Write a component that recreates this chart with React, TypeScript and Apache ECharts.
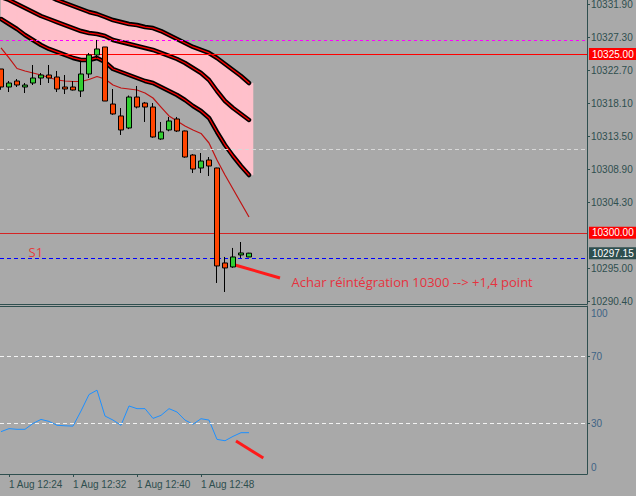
import React, { useEffect, useRef } from 'react';
import * as echarts from 'echarts';

// ---- data ----
const times = [
  '1 Aug 12:23', '1 Aug 12:24', '1 Aug 12:25', '1 Aug 12:26', '1 Aug 12:27', '1 Aug 12:28', '1 Aug 12:29', '1 Aug 12:30',
  '1 Aug 12:31', '1 Aug 12:32', '1 Aug 12:33', '1 Aug 12:34', '1 Aug 12:35', '1 Aug 12:36', '1 Aug 12:37', '1 Aug 12:38',
  '1 Aug 12:39', '1 Aug 12:40', '1 Aug 12:41', '1 Aug 12:42', '1 Aug 12:43', '1 Aug 12:44', '1 Aug 12:45', '1 Aug 12:46',
  '1 Aug 12:47', '1 Aug 12:48', '1 Aug 12:49', '1 Aug 12:50', '1 Aug 12:51', '1 Aug 12:52', '1 Aug 12:53', '1 Aug 12:54',
];
const timeTickLabels = ['1 Aug 12:24', '1 Aug 12:32', '1 Aug 12:40', '1 Aug 12:48'];

const opens = [10322.91, 10320.39, 10321.23, 10320.39, 10320.95, 10321.65, 10322.07, 10321.79, 10320.39, 10320.39, 10319.83, 10322.21, 10324.87, 10325.99, 10318.01, 10316.34, 10314.66, 10318.99, 10318.15, 10317.59, 10313.12, 10314.38, 10315.92, 10314.24, 10310.88, 10309.06, 10310.18, 10309.06, 10295.78, 10295.22, 10296.90, 10296.62];
const closes = [10320.39, 10320.95, 10320.67, 10320.67, 10321.65, 10322.07, 10321.65, 10320.11, 10320.11, 10319.97, 10322.21, 10324.87, 10325.71, 10318.43, 10316.62, 10314.38, 10318.99, 10317.59, 10317.59, 10313.40, 10314.10, 10315.64, 10314.24, 10310.60, 10308.92, 10310.04, 10309.34, 10295.36, 10295.08, 10296.62, 10297.18, 10297.15];
const lows = [10320.00, 10319.69, 10320.39, 10319.55, 10320.67, 10320.67, 10320.95, 10319.69, 10319.41, 10319.90, 10318.99, 10321.65, 10324.45, 10318.43, 10316.50, 10313.68, 10314.50, 10317.40, 10315.50, 10313.30, 10313.00, 10314.20, 10314.10, 10310.50, 10308.36, 10308.36, 10307.94, 10292.98, 10291.72, 10295.10, 10296.48, 10296.60];
const highs = [10322.91, 10321.23, 10321.51, 10320.95, 10323.47, 10322.35, 10323.47, 10322.63, 10322.07, 10321.23, 10323.89, 10325.15, 10326.97, 10325.99, 10320.11, 10317.45, 10319.20, 10320.53, 10318.30, 10318.15, 10315.50, 10316.20, 10316.20, 10314.30, 10311.00, 10311.16, 10310.60, 10309.10, 10296.62, 10297.88, 10298.71, 10297.20];

const bandUpper = [10336.06, 10335.64, 10335.08, 10334.66, 10334.24, 10333.68, 10333.12, 10332.56, 10332.14, 10331.72, 10331.30, 10330.88, 10330.60, 10330.18, 10329.76, 10329.48, 10329.20, 10329.06, 10328.78, 10328.64, 10328.22, 10327.66, 10327.11, 10326.55, 10325.99, 10325.57, 10325.15, 10324.45, 10323.61, 10322.77, 10321.93, 10320.95];
const bandMiddle = [10332.98, 10332.56, 10332.00, 10331.44, 10330.88, 10330.32, 10329.90, 10329.48, 10329.06, 10328.64, 10328.22, 10327.94, 10327.80, 10327.53, 10326.97, 10326.69, 10326.41, 10326.13, 10325.85, 10325.57, 10325.15, 10324.73, 10324.31, 10323.75, 10323.05, 10322.35, 10321.37, 10319.83, 10318.43, 10317.46, 10316.62, 10315.78];
const bandLower = [10329.90, 10329.20, 10328.50, 10327.66, 10326.97, 10326.27, 10325.71, 10325.29, 10324.87, 10324.45, 10324.17, 10324.17, 10324.45, 10323.89, 10322.91, 10322.49, 10322.07, 10321.65, 10321.23, 10320.95, 10320.39, 10319.83, 10319.27, 10318.57, 10317.73, 10317.04, 10316.06, 10314.10, 10312.28, 10310.74, 10309.34, 10308.08];

const maValues = [10325.85, 10324.45, 10322.98, 10322.63, 10322.35, 10322.07, 10321.72, 10321.37, 10321.23, 10321.16, 10321.16, 10321.44, 10321.86, 10321.51, 10320.67, 10320.25, 10320.11, 10319.97, 10319.55, 10318.85, 10317.59, 10316.34, 10315.64, 10314.94, 10314.38, 10313.89, 10312.56, 10310.18, 10308.08, 10306.13, 10304.17, 10302.21];

const rsiValues = [25.2, 27.0, 26.6, 26.6, 30.1, 32.5, 31.3, 29.0, 28.7, 28.5, 37.5, 47.3, 49.9, 34.5, 32.1, 29.0, 40.5, 38.9, 38.9, 33.1, 34.9, 38.9, 36.9, 32.1, 29.6, 32.9, 32.1, 20.6, 19.8, 22.4, 24.6, 24.6];

const priceTicks = [10290.4, 10295.0, 10304.3, 10308.9, 10313.5, 10318.1, 10322.7, 10327.3, 10331.9];
const rsiTicks = [0, 30, 70, 100];
const rsiLevels = [70, 30];

const magentaLevel = 10326.97;
const redLevelHigh = 10325.0;
const grayLevel = 10311.72;
const redLevelLow = 10300.0;
const supportLevel = 10296.38;
const bidPrice = 10297.15;

const priceArrow = [[29.25, 10295.5], [34.875, 10293.68]];
const rsiArrow = [[29.375, 19.6], [32.79, 9.5]];
const annotationPos = [36.25, 10293.12];
const s1Pos = [3.375, 10297.32];
const annotationText = 'Achar réintégration 10300 --> +1,4 point';

const X_MIN = -0.125;
const X_MAX = 73.25;
const Y_MAX = 10332.56;
const Y_MIN = 10290.04;

const BG = '#a9a9a9';
const AXIS = '#2f4f4f';

export default function App() {
  const ref = useRef<HTMLDivElement>(null);

  useEffect(() => {
    const chart = echarts.init(ref.current as HTMLDivElement, null, { renderer: 'svg' });
    const pts = (arr: number[]) => arr.map((v, i) => [i, v]);
    const candleData = times.map((_, i) => [i, opens[i], closes[i], lows[i], highs[i]]);
    const last = times.length - 1;
    // each fill cell spans one bar to the next; the last one spans half a bar (as the histogram fill does)
    const fillData = times.map((_, i) =>
      i < last
        ? [i, bandUpper[i], bandLower[i], i + 1, bandUpper[i + 1], bandLower[i + 1]]
        : [i, bandUpper[i], bandLower[i], i + 0.5, bandUpper[i], bandLower[i]]
    );
    const timeTickIdx = timeTickLabels.map((t) => times.indexOf(t));
    const font = 'Liberation Sans';

    const bandLine = (arr: number[], color: string, width: number, z: number) => ({
      type: 'line',
      xAxisIndex: 0,
      yAxisIndex: 0,
      data: pts(arr),
      symbol: 'none',
      silent: true,
      z,
      lineStyle: { color, width, cap: 'round', join: 'round' },
    });

    const hLine = (y: number, color: string, type: any, width = 1) => ({
      yAxis: y,
      lineStyle: { color, type, width },
      label: { show: false },
    });

    const axisBox = (y: number, bg: string, lineColor: string) => ({
      yAxis: y,
      lineStyle: { color: lineColor, type: 'solid', width: 1 },
      label: {
        show: true,
        position: 'end',
        distance: 2,
        formatter: y.toFixed(2),
        color: '#ffffff',
        backgroundColor: bg,
        padding: [1, 3, 1, 3],
        fontSize: 10,
        lineHeight: 10,
        fontFamily: font,
      },
    });

    chart.setOption({
      animation: false,
      backgroundColor: BG,
      textStyle: { fontFamily: font },
      grid: [
        { left: 0, top: 0, width: 587, height: 304, outerBoundsMode: 'none', containLabel: false },
        { left: 0, top: 306, width: 587, height: 168, outerBoundsMode: 'none', containLabel: false },
      ],
      xAxis: [
        {
          type: 'value', gridIndex: 0, min: X_MIN, max: X_MAX,
          axisLine: { show: true, onZero: false, lineStyle: { color: AXIS } },
          axisTick: { show: false }, axisLabel: { show: false }, splitLine: { show: false },
        },
        {
          type: 'value', gridIndex: 1, min: X_MIN, max: X_MAX, position: 'bottom',
          axisLine: { show: true, onZero: false, lineStyle: { color: AXIS } },
          axisTick: { show: true, length: 3, customValues: timeTickIdx, lineStyle: { color: AXIS } },
          axisLabel: {
            show: true, customValues: timeTickIdx,
            formatter: (v: number) => times[Math.round(v)] || '',
            color: AXIS, fontSize: 10, align: 'left', margin: 5, fontFamily: font,
          },
          splitLine: { show: false },
        },
        {
          type: 'value', gridIndex: 1, min: X_MIN, max: X_MAX, position: 'top',
          axisLine: { show: true, onZero: false, lineStyle: { color: AXIS } },
          axisTick: { show: false }, axisLabel: { show: false }, splitLine: { show: false },
        },
      ],
      yAxis: [
        {
          type: 'value', gridIndex: 0, position: 'right', min: Y_MIN, max: Y_MAX,
          axisLine: { show: true, onZero: false, lineStyle: { color: AXIS } },
          axisTick: { show: true, length: 3, customValues: priceTicks, lineStyle: { color: AXIS } },
          axisLabel: {
            show: true, customValues: priceTicks,
            formatter: (v: number) => v.toFixed(2),
            color: AXIS, fontSize: 10, margin: 4, fontFamily: font,
          },
          splitLine: { show: false },
        },
        {
          type: 'value', gridIndex: 1, position: 'right', min: 0, max: 100,
          axisLine: { show: true, onZero: false, lineStyle: { color: AXIS } },
          axisTick: { show: true, length: 3, customValues: [30, 70], lineStyle: { color: AXIS } },
          axisLabel: {
            show: true, customValues: rsiTicks,
            formatter: (v: number) => (v === 100 ? '{t|100}' : v === 0 ? '{b|0}' : String(v)),
            rich: {
              t: { padding: [14, 0, 0, 0], color: '#3e6485', fontSize: 10, fontFamily: font },
              b: { padding: [0, 0, 14, 0], color: '#3e6485', fontSize: 10, fontFamily: font },
            },
            color: '#3e6485', fontSize: 10, margin: 4, fontFamily: font,
          },
          splitLine: { show: false },
        },
      ],
      series: [
        {
          type: 'custom', xAxisIndex: 0, yAxisIndex: 0, data: fillData, z: 1, silent: true, clip: true,
          renderItem: (params: any, api: any) => {
            const a = api.coord([api.value(0), api.value(1)]);
            const b = api.coord([api.value(3), api.value(4)]);
            const c = api.coord([api.value(3), api.value(5)]);
            const d = api.coord([api.value(0), api.value(2)]);
            return {
              type: 'polygon',
              shape: { points: [a, b, c, d] },
              style: { fill: '#ffc0cb', stroke: '#ffc0cb', lineWidth: 0.6 },
            };
          },
        },
        {
          type: 'line', xAxisIndex: 0, yAxisIndex: 0, data: pts(maValues),
          symbol: 'none', silent: true, z: 3,
          lineStyle: { color: '#c01212', width: 1.2 },
          markLine: {
            silent: true, symbol: ['none', 'none'], animation: false,
            data: [
              hLine(magentaLevel, '#ff00ff', [3, 3]),
              axisBox(redLevelHigh, '#ff0000', '#ff0000'),
              hLine(grayLevel, '#d8d8d8', [4, 3]),
              axisBox(redLevelLow, '#ff0000', '#d42424'),
              hLine(supportLevel, '#0000ff', [4, 3]),
              axisBox(bidPrice, '#2f4f4f', 'rgba(0,0,0,0)'),
            ],
          },
        },
        bandLine(bandUpper, '#000000', 4.5, 4),
        bandLine(bandUpper, '#ff0000', 1.3, 4),
        bandLine(bandMiddle, '#000000', 4.5, 4),
        bandLine(bandMiddle, '#ff0000', 1.3, 4),
        bandLine(bandLower, '#000000', 4.5, 4),
        bandLine(bandLower, '#ff0000', 1.3, 4),
        {
          type: 'candlestick', xAxisIndex: 0, yAxisIndex: 0, data: candleData,
          barWidth: 5, z: 5, silent: true,
          itemStyle: {
            color: '#32cd32', color0: '#ff4500',
            borderColor: '#000000', borderColor0: '#000000', borderWidth: 1,
          },
        },
        {
          type: 'line', xAxisIndex: 0, yAxisIndex: 0, data: [], symbol: 'none', z: 6, silent: true,
          markLine: {
            silent: true, symbol: ['none', 'none'], animation: false,
            data: [[
              { coord: priceArrow[0], lineStyle: { color: '#ff1a1a', width: 3, type: 'solid' } },
              { coord: priceArrow[1] },
            ]],
            lineStyle: { type: 'solid' },
            label: { show: false },
          },
          markPoint: {
            silent: true, animation: false,
            data: [
              {
                coord: annotationPos, symbol: 'circle', symbolSize: 1, itemStyle: { color: 'rgba(0,0,0,0)' },
                label: {
                  show: true, position: 'right', distance: 0, formatter: annotationText,
                  color: '#e6323e', fontSize: 13, fontFamily: 'Open Sans',
                },
              },
              {
                coord: s1Pos, symbol: 'circle', symbolSize: 1, itemStyle: { color: 'rgba(0,0,0,0)' },
                label: {
                  show: true, position: 'right', distance: 0, formatter: 'S1',
                  color: '#e63c3c', fontSize: 13, fontFamily: 'Open Sans',
                },
              },
            ],
          },
        },
        {
          type: 'line', xAxisIndex: 1, yAxisIndex: 1, data: pts(rsiValues),
          symbol: 'none', silent: true, z: 3,
          lineStyle: { color: '#1e90ff', width: 1 },
          markLine: {
            silent: true, symbol: ['none', 'none'], animation: false,
            data: [
              ...rsiLevels.map((lv) => hLine(lv, '#f2f2f2', [4, 3])),
              [
                { coord: rsiArrow[0], lineStyle: { color: '#ff1a1a', width: 3, type: 'solid' } },
                { coord: rsiArrow[1] },
              ],
            ],
            label: { show: false },
          },
        },
      ],
    });

    return () => chart.dispose();
  }, []);

  return (
    <div
      ref={ref}
      style={{ position: 'fixed', left: 0, top: 0, width: 636, height: 496, background: BG }}
    />
  );
}
